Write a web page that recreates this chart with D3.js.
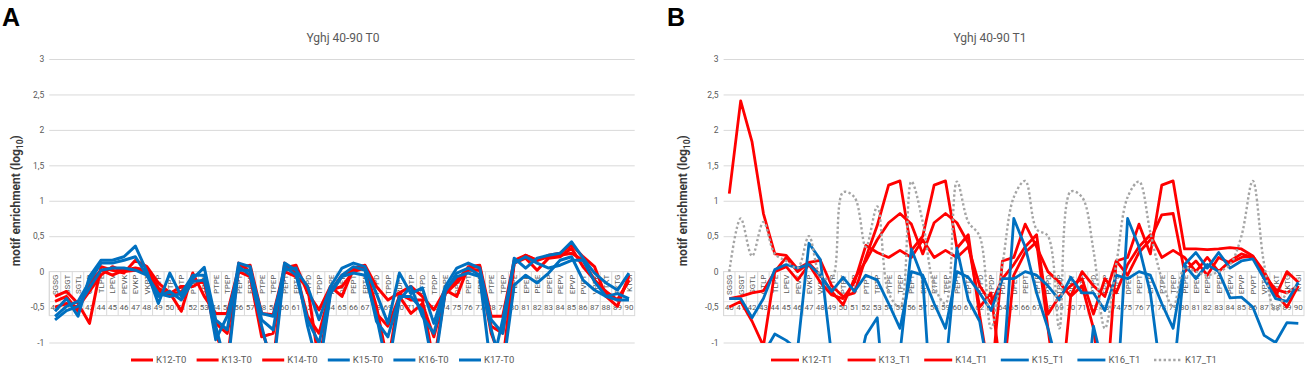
<!DOCTYPE html>
<html>
<head>
<meta charset="utf-8">
<script src="https://cdn.jsdelivr.net/npm/d3@7"></script>
<style>
  body { margin: 0; background: #fff; }
  text { font-family: Roboto, "Liberation Sans", sans-serif; }
</style>
</head>
<body>
<script>
// category positions and motif windows (40-90)
var positions = ["40","41","42","43","44","45","46","47","48","49","50","51","52","53","54","55","56","57","58","59","60","61","62","63","64","65","66","67","68","69","70","71","72","73","74","75","76","77","78","79","80","81","82","83","84","85","86","87","88","89","90"];
var motifs = ["SGSG","GSGT","SGTL","GTLP","TLPE","LPEV","PEVK","EVKP","VKPT","KPTP","PTPT","TPTP","PTPT","TPTP","PTPE","TPEP","PEPT","EPTP","PTPE","TPEP","PEPT","EPTP","PTPD","TPDP","PDPE","DPEP","PEPT","EPTP","PTPD","TPDP","PDPT","DPTP","PTPD","TPDP","PDPE","DPEP","PEPT","EPTP","PTPE","TPEP","PEPE","EPEP","PEPE","EPEP","PEPV","EPVP","PVPT","VPTK","PTKT","TKTG","KTGI"];

var yTicks = [-1, -0.5, 0, 0.5, 1, 1.5, 2, 2.5, 3];

var namesT0 = ["K12-T0", "K13-T0", "K14-T0", "K15-T0", "K16-T0", "K17-T0"];
var namesT1 = ["K12-T1", "K13_T1", "K14_T1", "K15_T1", "K16_T1", "K17_T1"];

// panel A (T0)
var k12T0 = [-0.35,-0.28,-0.45,-0.73,0.07,0.02,-0.02,0.16,0.07,-0.16,-0.3,-0.56,-0.02,-0.35,-0.59,-0.59,0.05,0.09,-0.59,-0.61,0.05,0.09,-0.3,-0.54,-0.21,-0.35,0.05,0.09,-0.21,-0.4,-0.3,-0.21,-0.35,-0.54,-0.26,-0.35,0.07,0.09,-0.63,-0.63,0.16,0.23,0.16,0.23,0.26,0.38,0.21,0.07,-0.35,-0.49,-0.05];
var k13T0 = [-0.42,-0.35,-0.56,-0.16,0.02,-0.05,0.02,0.05,0.02,-0.23,-0.33,-0.28,-0.12,-0.16,-0.87,-1.3,0.12,0.0,-0.82,-1.3,0.12,-0.02,-0.63,-0.87,-0.26,-0.21,0.0,0.05,-0.59,-0.77,-0.35,-0.59,-0.45,-0.92,-0.31,-0.16,0.02,0.02,-0.87,-1.3,0.12,0.19,0.02,0.19,0.21,0.33,0.07,-0.12,-0.28,-0.4,-0.12];
var k14T0 = [-0.5,-0.45,-0.5,-0.28,-0.05,0.07,0.0,0.02,0.0,-0.28,-0.31,-0.21,-0.21,-0.12,-0.73,-0.87,0.0,-0.07,-0.92,-0.87,0.0,-0.07,-0.21,-1.3,-0.28,-0.05,0.02,0.07,-0.49,-1.3,-0.31,-0.4,-0.4,-1.3,-0.28,-0.12,0.05,0.07,-0.77,-0.87,0.12,0.23,0.16,0.21,0.23,0.26,0.16,-0.12,-0.3,-0.4,-0.12];
var k15T0 = [-0.56,-0.38,-0.63,-0.07,0.16,0.16,0.21,0.36,0.0,-0.45,-0.02,-0.35,-0.1,0.06,-0.68,-0.82,0.12,0.07,-0.68,-0.82,0.12,0.02,-0.21,-0.68,-0.21,0.05,0.12,0.07,-0.31,-0.73,-0.02,-0.31,-0.23,-0.73,-0.21,0.05,0.12,0.05,-0.68,-0.87,0.19,0.05,0.19,0.23,0.26,0.42,0.19,-0.02,-0.16,-0.26,-0.02];
var k16T0 = [-0.63,-0.49,-0.42,-0.14,0.12,0.12,0.16,0.21,-0.05,-0.35,-0.28,-0.4,-0.14,-0.12,-0.77,-1.4,0.07,-0.05,-0.77,-1.4,0.07,-0.05,-0.68,-1.01,-0.28,-0.05,0.07,0.02,-0.7,-0.92,-0.35,-0.35,-0.54,-1.4,-0.28,-0.02,0.05,-0.05,-0.82,-1.4,-0.19,-0.05,-0.16,-0.02,0.16,0.21,-0.12,-0.26,-0.35,-0.31,-0.38];
var k17T0 = [-0.68,-0.55,-0.49,-0.23,0.02,0.05,0.05,0.02,-0.05,-0.31,-0.35,-0.31,-0.05,-0.05,-0.96,-0.63,0.02,0.02,-0.59,-0.63,0.02,0.05,-0.77,-1.4,-0.31,-0.07,-0.02,-0.05,-0.63,-1.4,-0.4,-0.21,-0.63,-0.87,-0.26,-0.07,-0.02,-0.07,-1.4,-0.68,0.12,0.21,0.12,0.05,0.09,0.16,0.16,-0.14,-0.35,-0.4,-0.4];

// panel B (T1)
var k12T1 = [1.1,2.41,1.83,0.82,0.25,0.23,0.04,0.13,0.16,-0.2,-0.35,-0.3,0.2,0.65,1.22,1.28,0.3,0.5,1.22,1.28,0.33,0.52,-0.62,-1.6,0.15,0.2,0.67,0.35,0.0,-0.15,-0.35,0.0,-0.2,-0.35,0.15,0.2,0.67,0.25,1.22,1.28,0.32,0.32,0.31,0.32,0.34,0.32,0.22,0.0,-0.3,-0.5,-0.2];
var k13T1 = [-0.38,-0.35,-0.3,-0.27,0.0,0.07,-0.12,0.1,-0.15,-0.33,-0.38,-0.15,0.37,0.27,0.2,0.3,0.2,0.45,0.2,0.3,0.2,0.35,-0.2,-0.45,-0.1,0.1,0.35,0.52,-0.6,-0.35,-0.2,-0.1,-0.6,-0.1,-0.3,0.1,0.35,0.52,0.2,0.3,0.2,0.0,0.2,0.0,0.15,0.25,0.2,-0.05,-0.35,0.0,-0.15];
var k14T1 = [-0.5,-0.42,-0.7,-1.05,0.0,0.2,0.0,0.12,-0.05,-0.28,-0.47,-0.1,0.15,0.45,0.69,0.82,0.67,0.25,0.69,0.82,0.69,0.4,-0.5,-0.3,-1.6,-0.05,0.27,0.42,-0.8,-2.0,-0.35,-0.2,-0.8,-2.0,0.15,-0.05,0.27,0.45,0.8,0.82,0.0,0.15,-0.05,0.2,0.12,0.2,0.22,-0.05,-0.25,-0.3,-0.2];
var k15T1 = [-0.38,-0.38,-0.65,-0.38,0.03,0.1,0.05,0.1,-0.05,-0.28,-0.08,-0.28,-0.05,-0.12,-0.45,-0.8,0.0,-0.05,-0.45,-0.8,0.0,-0.08,-0.3,-0.55,-0.1,-0.1,0.0,-0.05,-0.2,-0.4,-0.08,-0.3,-0.3,-0.55,-0.05,-0.1,0.0,-0.05,-0.45,-0.8,0.1,-0.1,0.1,0.0,-0.37,-0.36,-0.5,-0.9,-1.0,-0.72,-0.73];
var k16T1 = [-1.5,-1.5,-1.5,-1.16,-0.88,-0.97,-1.1,0.4,0.17,-1.2,-1.8,-1.6,-0.9,-0.65,-2.5,-1.15,0.32,-0.1,-2.5,-1.4,0.33,-0.4,-0.7,-1.6,-1.55,0.75,0.35,-0.3,-0.8,-1.42,-2.5,-2.3,-0.77,-1.43,-1.95,0.75,0.35,-0.3,-1.55,-1.52,0.1,0.27,0.05,0.27,0.05,0.15,0.18,-0.1,-0.38,-0.42,-0.15];
var k17T1 = [0.0,0.75,0.22,0.7,0.25,0.15,0.05,0.5,-0.05,-0.1,1.12,1.05,0.35,0.92,-0.3,-0.5,1.27,0.7,-0.2,-0.45,1.27,0.7,0.5,-0.8,0.1,1.05,1.28,0.6,0.5,-0.8,1.13,1.05,0.3,-0.8,0.1,1.05,1.27,0.55,-0.1,-0.5,0.05,0.0,-0.05,0.0,0.1,0.5,1.28,0.1,-0.55,-0.3,-0.2];

var RED = "#ff0000", BLUE = "#0070c0", GRAY = "#a5a5a5";

var svg = d3.select("body").append("svg")
    .attr("width", 1308)
    .attr("height", 370);

var y = d3.scaleLinear().domain([-1, 3]).range([342.5, 59]);

function drawPanel(p) {
    var x = d3.scaleBand().domain(positions).range([p.left, p.right]);
    var bw = x.bandwidth();
    var g = svg.append("g");

    // gridlines + value labels
    var yAxis = d3.axisLeft(y)
        .tickValues(yTicks)
        .tickSize(-(p.right - p.left))
        .tickPadding(5)
        .tickFormat(function (d) { return String(d).replace(".", ","); });
    var ya = g.append("g")
        .attr("transform", "translate(" + p.left + ",0)")
        .call(yAxis);
    ya.select(".domain").remove();
    ya.selectAll("line").attr("stroke", "#d9d9d9");
    ya.selectAll("text")
        .attr("fill", "#595959")
        .style("font-size", "8.5px");

    // category table under the zero line
    var y0 = y(0);
    g.append("rect")
        .attr("x", p.left).attr("y", y0)
        .attr("width", p.right - p.left).attr("height", 44)
        .attr("fill", "#fff").attr("stroke", "#d9d9d9");
    g.append("line")
        .attr("x1", p.left).attr("x2", p.right)
        .attr("y1", y0 + 30).attr("y2", y0 + 30)
        .attr("stroke", "#e6e6e6");
    g.selectAll(".sep")
        .data(positions)
        .enter()
        .append("line")
        .attr("x1", function (d) { return x(d); })
        .attr("x2", function (d) { return x(d); })
        .attr("y1", y0).attr("y2", y0 + 44)
        .attr("stroke", "#d9d9d9");
    g.selectAll(".motif")
        .data(positions)
        .enter()
        .append("text")
        .attr("transform", function (d) {
            return "translate(" + (x(d) + bw / 2 + 3) + "," + (y0 + 3) + ") rotate(-90)";
        })
        .attr("text-anchor", "end")
        .attr("fill", "#595959")
        .style("font-size", "8px")
        .text(function (d, i) { return motifs[i]; });

    var xa = g.append("g")
        .attr("transform", "translate(0," + (y0 + 33) + ")")
        .call(d3.axisBottom(x).tickSize(0).tickPadding(0));
    xa.select(".domain").remove();
    xa.selectAll("text")
        .attr("fill", "#595959")
        .style("font-size", "8px");

    // series
    var clipId = "clip" + p.id;
    svg.append("clipPath").attr("id", clipId)
        .append("rect")
        .attr("x", p.left).attr("y", y(3) - 3)
        .attr("width", p.right - p.left).attr("height", y(-1) - y(3) + 3.5);

    var lines = g.append("g").attr("clip-path", "url(#" + clipId + ")");
    p.series.forEach(function (s) {
        var line = d3.line()
            .x(function (d, i) { return x(positions[i]) + bw / 2; })
            .y(function (d) { return y(d); });
        if (s.dotted) line.curve(d3.curveCatmullRom);
        lines.append("path")
            .attr("d", line(s.values))
            .attr("fill", "none")
            .attr("stroke", s.color)
            .attr("stroke-width", s.dotted ? 2.4 : p.lw)
            .attr("stroke-linejoin", "round")
            .attr("stroke-dasharray", s.dotted ? "2.4,2.4" : null);
    });

    // title, panel letter, axis title
    g.append("text")
        .attr("x", p.titleX).attr("y", 42)
        .attr("text-anchor", "middle")
        .attr("fill", "#595959")
        .style("font-size", "12px")
        .text(p.title);
    g.append("text")
        .attr("x", p.letterX).attr("y", 26)
        .attr("fill", "#000")
        .style("font-size", "25px")
        .style("font-weight", "bold")
        .style("font-family", "Arial, 'Liberation Sans', sans-serif")
        .text(p.letter);
    var yt = g.append("text")
        .attr("transform", "translate(" + p.ytitleX + "," + ((y(3) + y(-1)) / 2) + ") rotate(-90)")
        .attr("text-anchor", "middle")
        .attr("fill", "#3a3a3a")
        .style("font-size", "12px")
        .style("font-weight", "bold");
    yt.append("tspan").text("motif enrichment (log");
    yt.append("tspan").attr("dy", 3).style("font-size", "8.5px").text("10");
    yt.append("tspan").attr("dy", -3).text(")");

    // legend
    var lg = g.selectAll(".leg")
        .data(p.series)
        .enter()
        .append("g")
        .attr("transform", function (d, i) { return "translate(" + (p.legX + i * p.legStep) + "," + p.legY + ")"; });
    lg.append("line")
        .attr("x1", 0).attr("x2", p.legLen)
        .attr("stroke", function (d) { return d.color; })
        .attr("stroke-width", function (d) { return d.dotted ? 2.4 : p.lw; })
        .attr("stroke-dasharray", function (d) { return d.dotted ? "2.4,2.4" : null; });
    lg.append("text")
        .attr("x", p.legLen + 3).attr("dy", "0.35em")
        .attr("fill", "#595959")
        .style("font-size", "9.5px")
        .text(function (d) { return d.name; });
}

drawPanel({
    id: "A", left: 49.3, right: 634.7, lw: 3,
    title: "Yghj 40-90 T0", titleX: 343, letter: "A", letterX: 2, ytitleX: 20,
    legX: 131, legStep: 65.6, legLen: 22, legY: 360,
    series: [
        { name: namesT0[0], values: k12T0, color: RED },
        { name: namesT0[1], values: k13T0, color: RED },
        { name: namesT0[2], values: k14T0, color: RED },
        { name: namesT0[3], values: k15T0, color: BLUE },
        { name: namesT0[4], values: k16T0, color: BLUE },
        { name: namesT0[5], values: k17T0, color: BLUE }
    ]
});

drawPanel({
    id: "B", left: 723.6, right: 1304, lw: 2.8,
    title: "Yghj 40-90 T1", titleX: 990, letter: "B", letterX: 667, ytitleX: 687,
    legX: 771, legStep: 76.6, legLen: 28, legY: 360,
    series: [
        { name: namesT1[0], values: k12T1, color: RED },
        { name: namesT1[1], values: k13T1, color: RED },
        { name: namesT1[2], values: k14T1, color: RED },
        { name: namesT1[3], values: k15T1, color: BLUE },
        { name: namesT1[4], values: k16T1, color: BLUE },
        { name: namesT1[5], values: k17T1, color: GRAY, dotted: true }
    ]
});
</script>
</body>
</html>
